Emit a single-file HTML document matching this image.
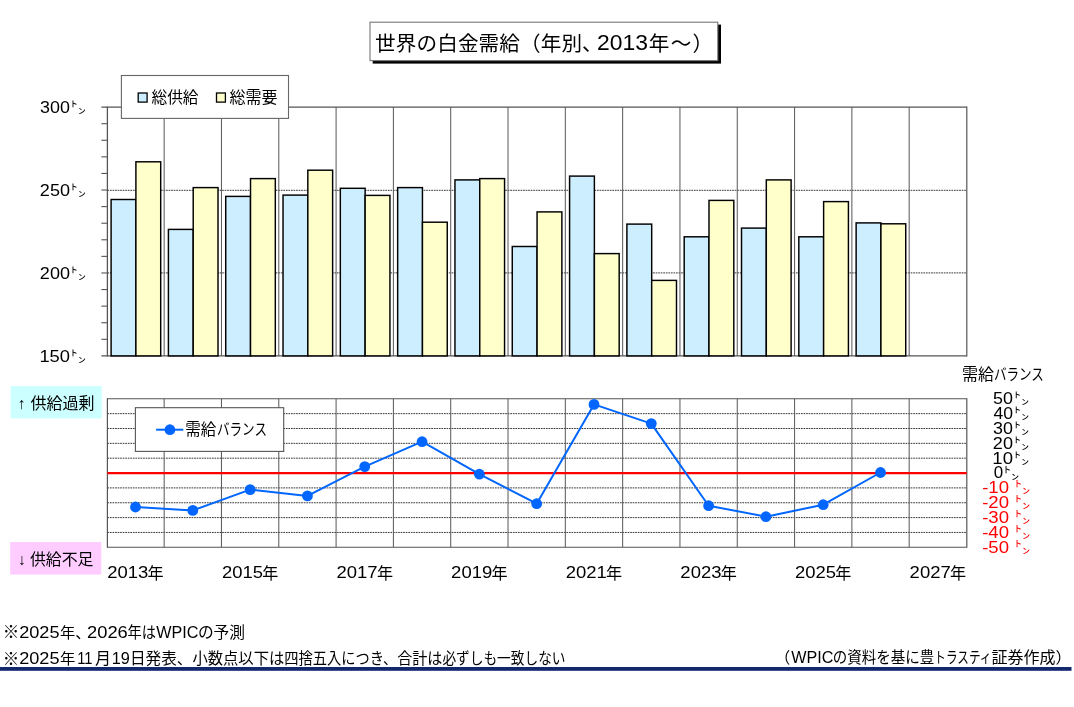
<!DOCTYPE html>
<html lang="ja"><head><meta charset="utf-8"><title>世界の白金需給（年別、2013年～）</title>
<style>
html,body{margin:0;padding:0;background:#fff;}
body{width:1074px;height:707px;overflow:hidden;font-family:"Liberation Sans","Noto Sans CJK JP",sans-serif;}
svg{display:block;will-change:transform;font-family:"Liberation Sans","Noto Sans CJK JP",sans-serif;}
text{fill:#000;white-space:pre;}
</style></head><body>
<svg width="1074" height="707" viewBox="0 0 1074 707">
<!-- title -->
<rect x="372.7" y="24.6" width="348.3" height="39" fill="#000"/>
<rect x="370" y="22.2" width="347.8" height="38.4" fill="#fff" stroke="#777" stroke-width="1.1"/>
<text><tspan x="375.1" y="50.6" font-size="20.6" textLength="227.6" lengthAdjust="spacing">世界の白金需給（年別、</tspan><tspan x="597.05" y="50.4" font-size="21.8" textLength="50.96" lengthAdjust="spacingAndGlyphs">2013</tspan><tspan x="648.8" y="50.6" font-size="20.6" textLength="64.4" lengthAdjust="spacing">年～）</tspan></text>
<!-- top chart: gridlines, axes, bars -->
<line x1="107.4" y1="190.3" x2="966.8" y2="190.3" stroke="#383838" stroke-width="1" stroke-dasharray="1.7 0.85"/>
<line x1="107.4" y1="272.9" x2="966.8" y2="272.9" stroke="#383838" stroke-width="1" stroke-dasharray="1.7 0.85"/>
<line x1="164.16" y1="107.1" x2="164.16" y2="355.9" stroke="#5e5e5e" stroke-width="1.05"/>
<line x1="221.47" y1="107.1" x2="221.47" y2="355.9" stroke="#5e5e5e" stroke-width="1.05"/>
<line x1="278.78" y1="107.1" x2="278.78" y2="355.9" stroke="#5e5e5e" stroke-width="1.05"/>
<line x1="336.09" y1="107.1" x2="336.09" y2="355.9" stroke="#5e5e5e" stroke-width="1.05"/>
<line x1="393.4" y1="107.1" x2="393.4" y2="355.9" stroke="#5e5e5e" stroke-width="1.05"/>
<line x1="450.71" y1="107.1" x2="450.71" y2="355.9" stroke="#5e5e5e" stroke-width="1.05"/>
<line x1="508.02" y1="107.1" x2="508.02" y2="355.9" stroke="#5e5e5e" stroke-width="1.05"/>
<line x1="565.33" y1="107.1" x2="565.33" y2="355.9" stroke="#5e5e5e" stroke-width="1.05"/>
<line x1="622.64" y1="107.1" x2="622.64" y2="355.9" stroke="#5e5e5e" stroke-width="1.05"/>
<line x1="679.95" y1="107.1" x2="679.95" y2="355.9" stroke="#5e5e5e" stroke-width="1.05"/>
<line x1="737.26" y1="107.1" x2="737.26" y2="355.9" stroke="#5e5e5e" stroke-width="1.05"/>
<line x1="794.57" y1="107.1" x2="794.57" y2="355.9" stroke="#5e5e5e" stroke-width="1.05"/>
<line x1="851.88" y1="107.1" x2="851.88" y2="355.9" stroke="#5e5e5e" stroke-width="1.05"/>
<line x1="909.19" y1="107.1" x2="909.19" y2="355.9" stroke="#5e5e5e" stroke-width="1.05"/>
<line x1="101.4" y1="107.1" x2="966.8" y2="107.1" stroke="#555555" stroke-width="1.1"/>
<line x1="966.8" y1="106.6" x2="966.8" y2="356.4" stroke="#555555" stroke-width="1.2"/>
<line x1="101.4" y1="355.9" x2="966.8" y2="355.9" stroke="#555555" stroke-width="1.1"/>
<line x1="107.4" y1="106.6" x2="107.4" y2="356.4" stroke="#555555" stroke-width="1.3"/>
<line x1="101.4" y1="123.69" x2="107.4" y2="123.69" stroke="#555555" stroke-width="1.1"/>
<line x1="101.4" y1="140.27" x2="107.4" y2="140.27" stroke="#555555" stroke-width="1.1"/>
<line x1="101.4" y1="156.86" x2="107.4" y2="156.86" stroke="#555555" stroke-width="1.1"/>
<line x1="101.4" y1="173.45" x2="107.4" y2="173.45" stroke="#555555" stroke-width="1.1"/>
<line x1="101.4" y1="190.03" x2="107.4" y2="190.03" stroke="#555555" stroke-width="1.1"/>
<line x1="101.4" y1="206.62" x2="107.4" y2="206.62" stroke="#555555" stroke-width="1.1"/>
<line x1="101.4" y1="223.21" x2="107.4" y2="223.21" stroke="#555555" stroke-width="1.1"/>
<line x1="101.4" y1="239.79" x2="107.4" y2="239.79" stroke="#555555" stroke-width="1.1"/>
<line x1="101.4" y1="256.38" x2="107.4" y2="256.38" stroke="#555555" stroke-width="1.1"/>
<line x1="101.4" y1="272.97" x2="107.4" y2="272.97" stroke="#555555" stroke-width="1.1"/>
<line x1="101.4" y1="289.55" x2="107.4" y2="289.55" stroke="#555555" stroke-width="1.1"/>
<line x1="101.4" y1="306.14" x2="107.4" y2="306.14" stroke="#555555" stroke-width="1.1"/>
<line x1="101.4" y1="322.73" x2="107.4" y2="322.73" stroke="#555555" stroke-width="1.1"/>
<line x1="101.4" y1="339.31" x2="107.4" y2="339.31" stroke="#555555" stroke-width="1.1"/>
<g stroke="#000" stroke-width="1.45">
<rect x="111.1" y="199.5" width="24.8" height="156.4" fill="#cceeff"/>
<rect x="135.9" y="161.8" width="24.8" height="194.1" fill="#ffffcc"/>
<rect x="168.41" y="229.4" width="24.8" height="126.5" fill="#cceeff"/>
<rect x="193.21" y="187.6" width="24.8" height="168.3" fill="#ffffcc"/>
<rect x="225.72" y="196.4" width="24.8" height="159.5" fill="#cceeff"/>
<rect x="250.52" y="178.6" width="24.8" height="177.3" fill="#ffffcc"/>
<rect x="283.03" y="195.1" width="24.8" height="160.8" fill="#cceeff"/>
<rect x="307.83" y="170.2" width="24.8" height="185.7" fill="#ffffcc"/>
<rect x="340.34" y="188.3" width="24.8" height="167.6" fill="#cceeff"/>
<rect x="365.14" y="195.4" width="24.8" height="160.5" fill="#ffffcc"/>
<rect x="397.65" y="187.6" width="24.8" height="168.3" fill="#cceeff"/>
<rect x="422.45" y="222.2" width="24.8" height="133.7" fill="#ffffcc"/>
<rect x="454.96" y="179.9" width="24.8" height="176" fill="#cceeff"/>
<rect x="479.76" y="178.6" width="24.8" height="177.3" fill="#ffffcc"/>
<rect x="512.27" y="246.5" width="24.8" height="109.4" fill="#cceeff"/>
<rect x="537.07" y="211.9" width="24.8" height="144" fill="#ffffcc"/>
<rect x="569.58" y="176.1" width="24.8" height="179.8" fill="#cceeff"/>
<rect x="594.38" y="253.6" width="24.8" height="102.3" fill="#ffffcc"/>
<rect x="626.89" y="224.1" width="24.8" height="131.8" fill="#cceeff"/>
<rect x="651.69" y="280.4" width="24.8" height="75.5" fill="#ffffcc"/>
<rect x="684.2" y="236.8" width="24.8" height="119.1" fill="#cceeff"/>
<rect x="709" y="200.4" width="24.8" height="155.5" fill="#ffffcc"/>
<rect x="741.51" y="228.1" width="24.8" height="127.8" fill="#cceeff"/>
<rect x="766.31" y="179.9" width="24.8" height="176" fill="#ffffcc"/>
<rect x="798.82" y="236.8" width="24.8" height="119.1" fill="#cceeff"/>
<rect x="823.62" y="201.6" width="24.8" height="154.3" fill="#ffffcc"/>
<rect x="856.13" y="222.9" width="24.8" height="133" fill="#cceeff"/>
<rect x="880.93" y="223.8" width="24.8" height="132.1" fill="#ffffcc"/>
</g>
<rect x="121.4" y="75.5" width="167.1" height="42.9" fill="#fff" stroke="#666" stroke-width="1.1"/>
<rect x="138.2" y="93" width="8.9" height="9.1" fill="#cceeff" stroke="#000" stroke-width="1.3"/>
<rect x="216.5" y="93" width="8.9" height="9.1" fill="#ffffcc" stroke="#000" stroke-width="1.3"/>
<text x="151.5" y="102.7" font-size="15.7">総供給</text>
<text x="229.4" y="102.7" font-size="16">総需要</text>
<text><tspan x="40.12" y="112.7" font-size="17" textLength="29.88" lengthAdjust="spacingAndGlyphs">300</tspan><tspan x="70.2" y="112.7" font-size="15.7">㌧</tspan></text>
<text><tspan x="39.89" y="195.9" font-size="17" textLength="30.11" lengthAdjust="spacingAndGlyphs">250</tspan><tspan x="70.2" y="195.9" font-size="15.7">㌧</tspan></text>
<text><tspan x="39.89" y="278.5" font-size="17" textLength="30.11" lengthAdjust="spacingAndGlyphs">200</tspan><tspan x="70.2" y="278.5" font-size="15.7">㌧</tspan></text>
<text><tspan x="39.4" y="361.5" font-size="17" textLength="30.61" lengthAdjust="spacingAndGlyphs">150</tspan><tspan x="70.2" y="361.5" font-size="15.7">㌧</tspan></text>
<!-- bottom chart -->
<rect x="10.6" y="386.1" width="91.1" height="32.3" fill="#ccffff"/>
<rect x="10.2" y="542" width="91" height="32.6" fill="#ffccff"/>
<text x="21.8" y="408.6" font-size="15.5" text-anchor="middle">↑</text>
<text x="30.5" y="408.7" font-size="16">供給過剰</text>
<text x="22" y="565" font-size="15.5" text-anchor="middle">↓</text>
<text x="29.9" y="565.3" font-size="15.9">供給不足</text>
<line x1="107.4" y1="413.65" x2="966.8" y2="413.65" stroke="#383838" stroke-width="1" stroke-dasharray="1.7 0.85"/>
<line x1="107.4" y1="428.5" x2="966.8" y2="428.5" stroke="#383838" stroke-width="1" stroke-dasharray="1.7 0.85"/>
<line x1="107.4" y1="443.35" x2="966.8" y2="443.35" stroke="#383838" stroke-width="1" stroke-dasharray="1.7 0.85"/>
<line x1="107.4" y1="458.2" x2="966.8" y2="458.2" stroke="#383838" stroke-width="1" stroke-dasharray="1.7 0.85"/>
<line x1="107.4" y1="487.9" x2="966.8" y2="487.9" stroke="#383838" stroke-width="1" stroke-dasharray="1.7 0.85"/>
<line x1="107.4" y1="502.75" x2="966.8" y2="502.75" stroke="#383838" stroke-width="1" stroke-dasharray="1.7 0.85"/>
<line x1="107.4" y1="517.6" x2="966.8" y2="517.6" stroke="#383838" stroke-width="1" stroke-dasharray="1.7 0.85"/>
<line x1="107.4" y1="532.45" x2="966.8" y2="532.45" stroke="#383838" stroke-width="1" stroke-dasharray="1.7 0.85"/>
<line x1="164.16" y1="398.8" x2="164.16" y2="547.3" stroke="#5e5e5e" stroke-width="1.05"/>
<line x1="221.47" y1="398.8" x2="221.47" y2="547.3" stroke="#5e5e5e" stroke-width="1.05"/>
<line x1="278.78" y1="398.8" x2="278.78" y2="547.3" stroke="#5e5e5e" stroke-width="1.05"/>
<line x1="336.09" y1="398.8" x2="336.09" y2="547.3" stroke="#5e5e5e" stroke-width="1.05"/>
<line x1="393.4" y1="398.8" x2="393.4" y2="547.3" stroke="#5e5e5e" stroke-width="1.05"/>
<line x1="450.71" y1="398.8" x2="450.71" y2="547.3" stroke="#5e5e5e" stroke-width="1.05"/>
<line x1="508.02" y1="398.8" x2="508.02" y2="547.3" stroke="#5e5e5e" stroke-width="1.05"/>
<line x1="565.33" y1="398.8" x2="565.33" y2="547.3" stroke="#5e5e5e" stroke-width="1.05"/>
<line x1="622.64" y1="398.8" x2="622.64" y2="547.3" stroke="#5e5e5e" stroke-width="1.05"/>
<line x1="679.95" y1="398.8" x2="679.95" y2="547.3" stroke="#5e5e5e" stroke-width="1.05"/>
<line x1="737.26" y1="398.8" x2="737.26" y2="547.3" stroke="#5e5e5e" stroke-width="1.05"/>
<line x1="794.57" y1="398.8" x2="794.57" y2="547.3" stroke="#5e5e5e" stroke-width="1.05"/>
<line x1="851.88" y1="398.8" x2="851.88" y2="547.3" stroke="#5e5e5e" stroke-width="1.05"/>
<line x1="909.19" y1="398.8" x2="909.19" y2="547.3" stroke="#5e5e5e" stroke-width="1.05"/>
<line x1="107.4" y1="398.8" x2="966.8" y2="398.8" stroke="#555555" stroke-width="1.1"/>
<line x1="107.4" y1="547.3" x2="966.8" y2="547.3" stroke="#555555" stroke-width="1.1"/>
<line x1="107.4" y1="398.3" x2="107.4" y2="547.8" stroke="#555555" stroke-width="1.2"/>
<line x1="966.8" y1="398.3" x2="966.8" y2="547.8" stroke="#555555" stroke-width="1.2"/>
<line x1="107.4" y1="473.1" x2="966.8" y2="473.1" stroke="#ff0000" stroke-width="2.2"/>
<polyline fill="none" stroke="#0066ff" stroke-width="2" stroke-linejoin="round" points="135.5,507 192.81,510.4 250.12,489.6 307.44,495.9 364.75,466.6 422.06,441.7 479.37,474.2 536.68,503.7 593.99,404.4 651.3,423.6 708.61,505.7 765.92,516.7 823.23,504.7 880.54,472.5"/>
<g fill="#0066ff"><circle cx="135.5" cy="507" r="5.4"/><circle cx="192.81" cy="510.4" r="5.4"/><circle cx="250.12" cy="489.6" r="5.4"/><circle cx="307.44" cy="495.9" r="5.4"/><circle cx="364.75" cy="466.6" r="5.4"/><circle cx="422.06" cy="441.7" r="5.4"/><circle cx="479.37" cy="474.2" r="5.4"/><circle cx="536.68" cy="503.7" r="5.4"/><circle cx="593.99" cy="404.4" r="5.4"/><circle cx="651.3" cy="423.6" r="5.4"/><circle cx="708.61" cy="505.7" r="5.4"/><circle cx="765.92" cy="516.7" r="5.4"/><circle cx="823.23" cy="504.7" r="5.4"/><circle cx="880.54" cy="472.5" r="5.4"/></g>
<rect x="135.4" y="407.7" width="148.3" height="43.7" fill="#fff" stroke="#555" stroke-width="1.1"/>
<line x1="156.1" y1="429.7" x2="183.3" y2="429.7" stroke="#0066ff" stroke-width="2"/>
<circle cx="169.9" cy="429.7" r="5.4" fill="#0066ff"/>
<text><tspan x="185.3" y="434.6" font-size="15.5">需給</tspan><tspan x="217" y="434.6" font-size="15.5" textLength="50" lengthAdjust="spacingAndGlyphs">バランス</tspan></text>
<text><tspan x="107.28" y="578.2" font-size="17" textLength="41.04" lengthAdjust="spacingAndGlyphs">2013</tspan><tspan x="147.6" y="578.7" font-size="16.1">年</tspan></text>
<text><tspan x="221.9" y="578.2" font-size="17" textLength="41" lengthAdjust="spacingAndGlyphs">2015</tspan><tspan x="262.2" y="578.7" font-size="16.1">年</tspan></text>
<text><tspan x="336.51" y="578.2" font-size="17" textLength="41.16" lengthAdjust="spacingAndGlyphs">2017</tspan><tspan x="376.9" y="578.7" font-size="16.1">年</tspan></text>
<text><tspan x="451.14" y="578.2" font-size="17" textLength="41.1" lengthAdjust="spacingAndGlyphs">2019</tspan><tspan x="491.5" y="578.7" font-size="16.1">年</tspan></text>
<text><tspan x="565.76" y="578.2" font-size="17" textLength="41.13" lengthAdjust="spacingAndGlyphs">2021</tspan><tspan x="606.1" y="578.7" font-size="16.1">年</tspan></text>
<text><tspan x="680.38" y="578.2" font-size="17" textLength="41.04" lengthAdjust="spacingAndGlyphs">2023</tspan><tspan x="720.7" y="578.7" font-size="16.1">年</tspan></text>
<text><tspan x="795" y="578.2" font-size="17" textLength="41" lengthAdjust="spacingAndGlyphs">2025</tspan><tspan x="835.3" y="578.7" font-size="16.1">年</tspan></text>
<text><tspan x="909.61" y="578.2" font-size="17" textLength="41.16" lengthAdjust="spacingAndGlyphs">2027</tspan><tspan x="950" y="578.7" font-size="16.1">年</tspan></text>
<text><tspan x="961.9" y="379.9" font-size="16">需給</tspan><tspan x="993.9" y="379.9" font-size="15.5" textLength="50" lengthAdjust="spacingAndGlyphs">バランス</tspan></text>
<text><tspan x="993.08" y="404.1" font-size="17" textLength="19.92" lengthAdjust="spacingAndGlyphs">50</tspan><tspan x="1013.4" y="404.3" font-size="15.7">㌧</tspan></text>
<text><tspan x="993.4" y="418.95" font-size="17" textLength="19.59" lengthAdjust="spacingAndGlyphs">40</tspan><tspan x="1013.4" y="419.1" font-size="15.7">㌧</tspan></text>
<text><tspan x="993.12" y="433.8" font-size="17" textLength="19.88" lengthAdjust="spacingAndGlyphs">30</tspan><tspan x="1013.4" y="434" font-size="15.7">㌧</tspan></text>
<text><tspan x="992.89" y="448.65" font-size="17" textLength="20.12" lengthAdjust="spacingAndGlyphs">20</tspan><tspan x="1013.4" y="448.8" font-size="15.7">㌧</tspan></text>
<text><tspan x="992.39" y="463.5" font-size="17" textLength="20.64" lengthAdjust="spacingAndGlyphs">10</tspan><tspan x="1013.4" y="463.7" font-size="15.7">㌧</tspan></text>
<text><tspan x="993.84" y="478.35" font-size="17" textLength="9.42" lengthAdjust="spacingAndGlyphs">0</tspan><tspan x="1003.2" y="478.5" font-size="16">㌧</tspan></text>
<text><tspan x="982.17" y="493.2" font-size="17" textLength="26.85" lengthAdjust="spacingAndGlyphs" fill="#ff0000">-10</tspan><tspan x="1014.2" y="493.4" font-size="16" fill="#ff0000">㌧</tspan></text>
<text><tspan x="982.17" y="508.05" font-size="17" textLength="26.85" lengthAdjust="spacingAndGlyphs" fill="#ff0000">-20</tspan><tspan x="1014.2" y="508.2" font-size="16" fill="#ff0000">㌧</tspan></text>
<text><tspan x="982.17" y="522.9" font-size="17" textLength="26.85" lengthAdjust="spacingAndGlyphs" fill="#ff0000">-30</tspan><tspan x="1014.2" y="523.1" font-size="16" fill="#ff0000">㌧</tspan></text>
<text><tspan x="982.17" y="537.75" font-size="17" textLength="26.85" lengthAdjust="spacingAndGlyphs" fill="#ff0000">-40</tspan><tspan x="1014.2" y="537.9" font-size="16" fill="#ff0000">㌧</tspan></text>
<text><tspan x="982.17" y="552.6" font-size="17" textLength="26.85" lengthAdjust="spacingAndGlyphs" fill="#ff0000">-50</tspan><tspan x="1014.2" y="552.8" font-size="16" fill="#ff0000">㌧</tspan></text>
<!-- footnotes -->
<text><tspan x="2.7" y="638.1" font-size="16.5">※</tspan><tspan x="19.19" y="637.5" font-size="17" textLength="40.37" lengthAdjust="spacingAndGlyphs">2025</tspan><tspan x="59.9" y="637.7" font-size="15.3">年、</tspan><tspan x="87.08" y="637.5" font-size="17" textLength="40.73" lengthAdjust="spacingAndGlyphs">2026</tspan><tspan x="127.4" y="637.7" font-size="15.5" textLength="28.5" lengthAdjust="spacingAndGlyphs">年は</tspan><tspan x="156.33" y="637.5" font-size="17" textLength="42.19" lengthAdjust="spacingAndGlyphs">WPIC</tspan><tspan x="197.9" y="637.7" font-size="15.5" textLength="47.2" lengthAdjust="spacingAndGlyphs">の予測</tspan></text>
<text><tspan x="2.7" y="664.8" font-size="16.5">※</tspan><tspan x="19.19" y="664.3" font-size="17" textLength="40.37" lengthAdjust="spacingAndGlyphs">2025</tspan><tspan x="59.9" y="664" font-size="15.3">年</tspan><tspan x="77.15" y="664.3" font-size="17" textLength="15.32" lengthAdjust="spacingAndGlyphs">11</tspan><tspan x="95" y="664" font-size="16">月</tspan><tspan x="111.66" y="664.3" font-size="17" textLength="18.11" lengthAdjust="spacingAndGlyphs">19</tspan><tspan x="130" y="664" font-size="15.5" textLength="62.4" lengthAdjust="spacingAndGlyphs">日発表、</tspan><tspan x="192.4" y="664" font-size="15.5" textLength="91.9" lengthAdjust="spacingAndGlyphs">小数点以下は</tspan><tspan x="284.3" y="664" font-size="15.5" textLength="112.9" lengthAdjust="spacingAndGlyphs">四捨五入につき、</tspan><tspan x="397.2" y="664" font-size="15.5" textLength="45.2" lengthAdjust="spacingAndGlyphs">合計は</tspan><tspan x="442.4" y="664" font-size="15.5" textLength="123.1" lengthAdjust="spacingAndGlyphs">必ずしも一致しない</tspan></text>
<text><tspan x="774.8" y="662.7" font-size="15.5">（</tspan><tspan x="791.23" y="662.8" font-size="17" textLength="42.19" lengthAdjust="spacingAndGlyphs">WPIC</tspan><tspan x="832.7" y="662.7" font-size="15.5" textLength="101.6" lengthAdjust="spacingAndGlyphs">の資料を基に豊</tspan><tspan x="934.3" y="662.7" font-size="15.5" textLength="57.1" lengthAdjust="spacingAndGlyphs">トラスティ</tspan><tspan x="991.4" y="662.7" font-size="15.5" textLength="80" lengthAdjust="spacingAndGlyphs">証券作成）</tspan></text>
<rect x="0" y="667" width="1071.5" height="3.8" fill="#14286e"/>
</svg>
</body></html>
